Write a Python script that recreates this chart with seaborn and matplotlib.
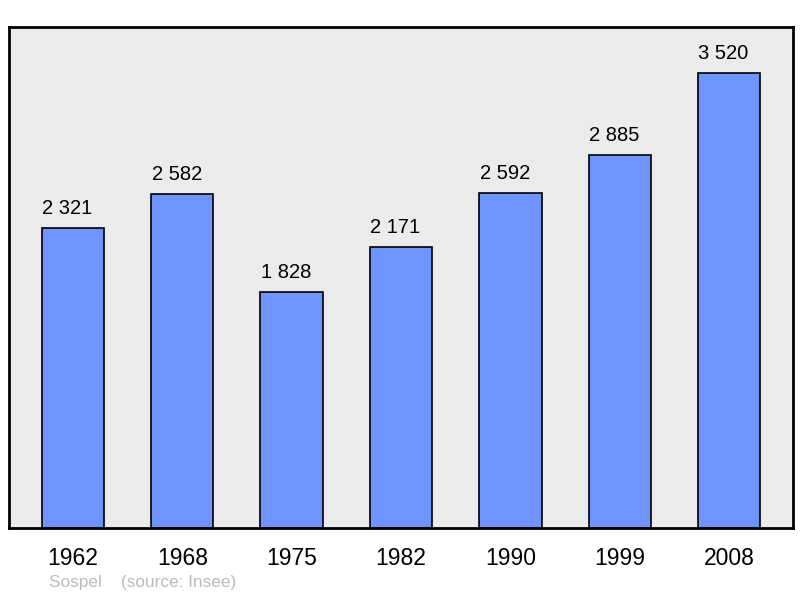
import matplotlib
matplotlib.use("Agg")
import matplotlib.pyplot as plt
import seaborn as sns
import pandas as pd

years = ["1962", "1968", "1975", "1982", "1990", "1999", "2008"]
population = [2321, 2582, 1828, 2171, 2592, 2885, 3520]
value_labels = ["2 321", "2 582", "1 828", "2 171", "2 592", "2 885", "3 520"]

df = pd.DataFrame({"year": years, "pop": population})

sns.set_theme(style="white")
plt.rcParams["font.family"] = ["Liberation Sans", "DejaVu Sans"]

fig = plt.figure(figsize=(8, 5.98), dpi=100)
ax = fig.add_axes([9 / 800, 70 / 598, 784 / 800, 501 / 598])
ax.set_facecolor("#EBEBEB")

sns.barplot(data=df, x="year", y="pop", color="#7094FF", saturation=1,
            width=0.57, edgecolor="black", linewidth=1.2, ax=ax)

for i, (v, lab) in enumerate(zip(population, value_labels)):
    ax.text(i - 0.05, v + 150, lab, ha="center", va="center", fontsize=14.5, color="black")

ax.set_xlim(-0.585, 6.585)
ax.set_ylim(0, 3875)
ax.set_yticks([])
ax.set_xlabel("")
ax.set_ylabel("")
ax.tick_params(axis="x", length=0, pad=14, labelsize=16.5, labelcolor="black")
for s in ax.spines.values():
    s.set_visible(True)
    s.set_color("black")
    s.set_linewidth(2)

fig.text(49 / 800, 1 - 583 / 598, "Sospel    (source: Insee)", fontsize=12.4,
         color="#BBBBBB", ha="left", va="center")

fig.savefig("out.png", dpi=100)
